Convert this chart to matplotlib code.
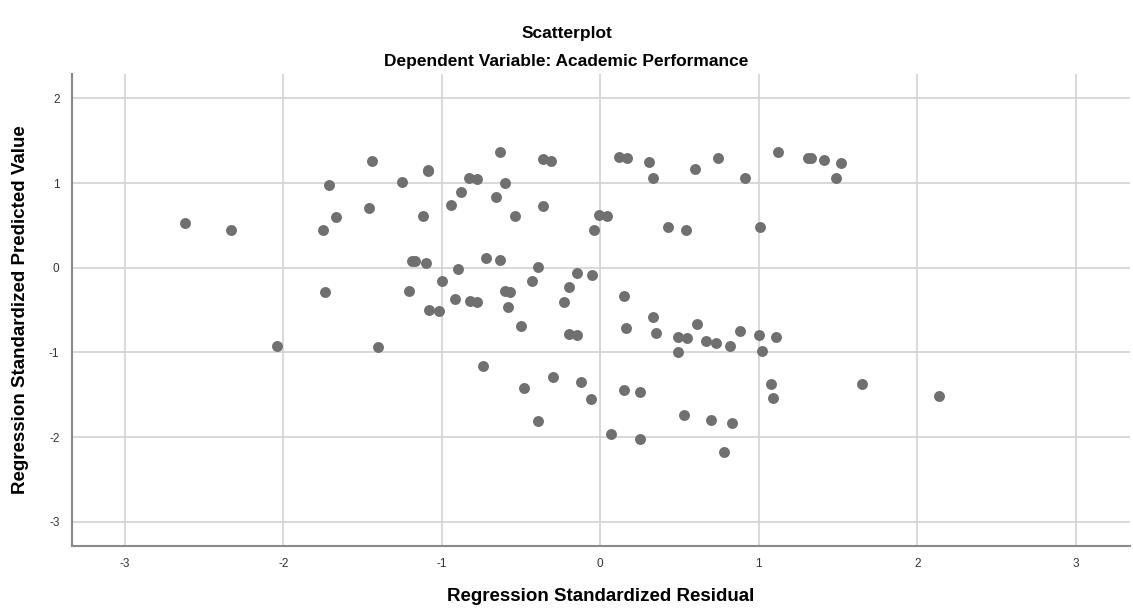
import numpy as np
from matplotlib import pyplot as plt

plt.rcParams['font.family'] = ['Liberation Sans', 'DejaVu Sans']
plt.rcParams['axes.unicode_minus'] = False

# standardized residuals (x) and standardized predicted values (y)
residual = [
    -2.62, -2.33, -1.75, -1.74, -1.71, -1.67, -1.46, -1.44, -1.40, -2.04,
    -1.25, -1.21, -1.19, -1.17, -1.12, -1.10, -1.09, -1.08, -1.02, -1.00,
    -0.94, -0.92, -0.90, -0.88, -0.83, -0.82, -0.78, -0.78, -0.74, -0.72,
    -0.66, -0.63, -0.63, -0.60, -0.60, -0.58, -0.57, -0.54, -0.50, -0.48,
    -0.43, -0.39, -0.39, -0.36, -0.36, -0.31, -0.30, -0.23, -0.20, -0.20,
    -0.15, -0.15, -0.12, -0.06, -0.05, -0.04, -0.01, 0.04, 0.07, 0.12,
    0.15, 0.15, 0.16, 0.17, 0.25, 0.25, 0.31, 0.33, 0.33, 0.35,
    0.43, 0.49, 0.49, 0.53, 0.54, 0.55, 0.60, 0.61, 0.67, 0.70,
    0.73, 0.74, 0.78, 0.82, 0.83, 0.88, 0.91, 1.00, 1.01, 1.02,
    1.08, 1.09, 1.11, 1.12, 1.31, 1.33, 1.41, 1.49, 1.52, 1.65,
    2.14, -1.09,
]
predicted = [
    0.53, 0.44, 0.44, -0.29, 0.98, 0.60, 0.71, 1.26, -0.94, -0.93,
    1.01, -0.27, 0.08, 0.08, 0.61, 0.06, 1.15, -0.50, -0.51, -0.16,
    0.74, -0.37, -0.01, 0.89, 1.06, -0.39, 1.05, -0.41, -1.16, 0.12,
    0.83, 1.37, 0.09, -0.28, 1.00, -0.47, -0.29, 0.61, -0.69, -1.42,
    -0.16, 0.01, -1.81, 1.28, 0.73, 1.26, -1.29, -0.40, -0.23, -0.78,
    -0.80, -0.06, -1.35, -1.55, -0.09, 0.45, 0.62, 0.61, -1.96, 1.31,
    -0.34, -1.44, -0.71, 1.30, -1.47, -2.02, 1.25, 1.06, -0.58, -0.77,
    0.48, -0.82, -1.00, -1.74, 0.45, -0.83, 1.16, -0.67, -0.87, -1.80,
    -0.89, 1.30, -2.18, -0.92, -1.83, -0.75, 1.06, -0.79, 0.48, -0.98,
    -1.37, -1.54, -0.82, 1.37, 1.30, 1.30, 1.27, 1.06, 1.24, -1.37,
    -1.52, 1.14,
]

fig = plt.figure(figsize=(11.33, 6.12), dpi=100)
ax = fig.add_axes([0.0635, 0.108, 0.9335, 0.771])

ax.scatter(residual, predicted, s=62, color='#707070', linewidths=0, zorder=3)

ax.set_xlim(-3.334, 3.34)
ax.set_ylim(-3.286, 2.287)
ax.set_xticks(np.arange(-3, 4, 1))
ax.set_yticks(np.arange(-3, 3, 1))
ax.grid(True, color='#d2d2d2', linewidth=1.2, zorder=0)
ax.set_axisbelow(True)

for side in ['top', 'right']:
    ax.spines[side].set_visible(False)
for side in ['left', 'bottom']:
    ax.spines[side].set_color('#8a8a8a')
    ax.spines[side].set_linewidth(1.5)
ax.tick_params(length=0, labelsize=8.5, labelcolor='#333333')
ax.tick_params(axis='x', pad=9)
ax.tick_params(axis='y', pad=9)

ax.set_xlabel('Regression Standardized Residual', fontsize=13.5, fontweight='bold')
ax.xaxis.set_label_coords(0.5, -0.09)
ax.set_ylabel('Regression Standardized Predicted Value', fontsize=13.5, fontweight='bold')
ax.yaxis.set_label_coords(-0.041, 0.5)

fig.text(0.5, 0.946, 'Scatterplot', ha='center', va='center', fontsize=12.5, fontweight='bold')
fig.text(0.5, 0.9, 'Dependent Variable: Academic Performance', ha='center', va='center',
         fontsize=12.5, fontweight='bold')

fig.savefig('out.png', dpi=100)
